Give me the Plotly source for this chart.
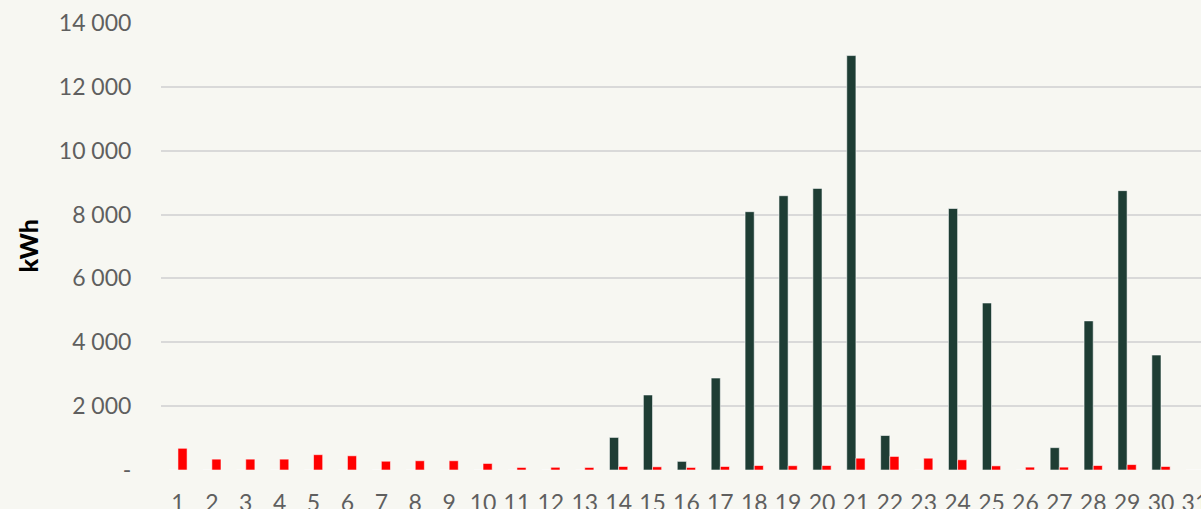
import plotly.graph_objects as go

days = list(range(1, 32))
dark_values = [0, 0, 0, 0, 0, 0, 0, 0, 0, 0, 0, 0, 0,
               1020, 2350, 270, 2880, 8090, 8590, 8820, 12980, 1080, 0,
               8190, 5230, 0, 700, 4670, 8750, 3600, 0]
red_values = [680, 340, 340, 340, 480, 445, 275, 290, 290, 205, 80, 85, 80,
              110, 100, 80, 110, 140, 135, 140, 370, 425, 370,
              320, 130, 90, 90, 140, 170, 110, 0]
y_tickvals = [0, 2000, 4000, 6000, 8000, 10000, 12000, 14000]
y_ticktext = ["-", "2 000", "4 000", "6 000", "8 000", "10 000", "12 000", "14 000"]
y_title = "kWh"

fig = go.Figure()
fig.add_trace(go.Bar(x=days, y=dark_values, marker=dict(color="#1e3d34",
                     line=dict(color="rgba(255,255,255,0.55)", width=1)),
                     showlegend=False))
fig.add_trace(go.Bar(x=days, y=red_values, marker=dict(color="#ff0000",
                     line=dict(color="rgba(255,255,255,0.55)", width=1)),
                     showlegend=False))

fig.update_layout(
    width=1201, height=509,
    paper_bgcolor="#f7f7f2", plot_bgcolor="#f7f7f2",
    margin=dict(l=161, r=0, t=23, b=39, autoexpand=False),
    barmode="group", bargap=0.46, bargroupgap=0,
    font=dict(family="Lato", color="#5f5f5f", size=23),
)
fig.update_xaxes(range=[0.5, 31.18], tickmode="array", tickvals=days,
                 ticktext=[str(d) for d in days], showgrid=False, zeroline=False,
                 showline=False, ticks="outside", ticklen=12, tickcolor="rgba(0,0,0,0)",
                 tickfont=dict(size=23, color="#5f5f5f"), automargin=False,
                 ticklabeloverflow="allow")
fig.update_yaxes(range=[0, 14000], tickmode="array", tickvals=y_tickvals,
                 ticktext=y_ticktext, showgrid=True, gridcolor="#d9d9d9", gridwidth=2,
                 zeroline=False, showline=False, ticks="outside", ticklen=24,
                 tickcolor="rgba(0,0,0,0)", tickfont=dict(size=23, color="#5f5f5f"),
                 automargin=False)
fig.add_annotation(text=y_title, xref="paper", yref="paper",
                   x=-0.1288, y=0.5, xanchor="center", yanchor="middle",
                   textangle=-90, showarrow=False,
                   font=dict(family="Lato", size=25, color="#000000", weight=900))
fig.write_html("out.html", config={"displayModeBar": False},
               post_script="document.body.style.margin='0';document.body.style.padding='0';")
